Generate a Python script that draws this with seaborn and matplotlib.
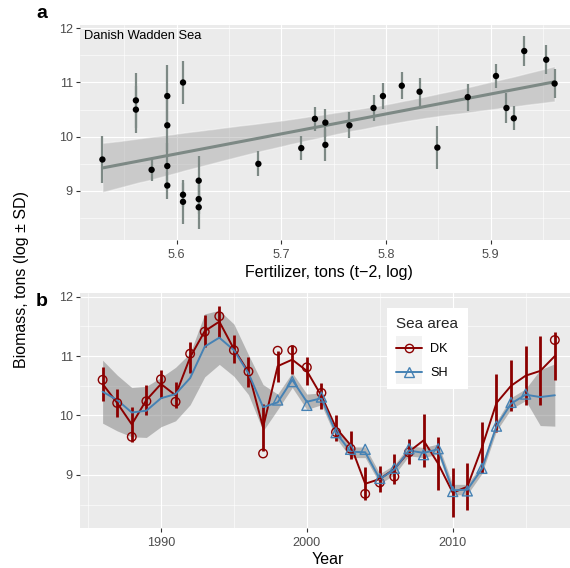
import numpy as np
import pandas as pd
import matplotlib
matplotlib.use("Agg")
import matplotlib.pyplot as plt
import seaborn as sns
from matplotlib.legend_handler import HandlerLine2D
from matplotlib.patches import Rectangle
from matplotlib.lines import Line2D
from matplotlib.ticker import MultipleLocator, FixedLocator

nan = np.nan

# ---------------- data ----------------
years = list(range(1986, 2018))

# DK state estimates (log biomass) and SD
dk_state = [10.53, 10.21, 9.85, 10.26, 10.53, 10.34, 10.98, 11.42, 11.58, 11.12,
            10.73, 9.80, 10.83, 10.94, 10.75, 10.33, 9.79, 9.50, 8.85, 8.93,
            9.10, 9.39, 9.58, 9.19, 8.70, 8.80, 9.46, 10.21, 10.50, 10.67,
            10.75, 11.00]
dk_sd = [0.28, 0.24, 0.30, 0.26, 0.24, 0.22, 0.26, 0.27, 0.27, 0.23,
         0.25, 0.40, 0.26, 0.25, 0.24, 0.22, 0.22, 0.23, 0.28, 0.22,
         0.25, 0.21, 0.44, 0.45, 0.41, 0.40, 0.43, 0.49, 0.43, 0.50,
         0.58, 0.40]
# fertilizer (t-2, log)
fert_t2 = [5.915, 5.765, 5.742, 5.742, 5.788, 5.922, 5.961, 5.953, 5.932, 5.905,
           5.878, 5.849, 5.832, 5.815, 5.797, 5.732, 5.719, 5.678, 5.621, 5.606,
           5.591, 5.576, 5.529, 5.621, 5.621, 5.606, 5.591, 5.591, 5.561, 5.561,
           5.591, 5.606]
# DK observations
dk_obs = [10.60, 10.21, 9.64, 10.24, 10.61, 10.23, 11.04, 11.41, 11.67, 11.10,
          10.74, 9.36, 11.09, 11.10, 10.81, 10.38, 9.72, 9.44, 8.68, 8.87,
          8.97, 9.38, nan, nan, nan, nan, nan, nan, nan, nan,
          nan, 11.27]
# SH observations
sh_obs = [nan, nan, nan, nan, nan, nan, nan, nan, nan, nan,
          nan, nan, 10.26, 10.57, 10.17, 10.31, 9.71, 9.43, 9.43, 8.94,
          9.11, 9.44, 9.34, 9.44, 8.72, 8.73, 9.11, 9.82, 10.22, 10.36,
          nan, nan]
# SH state estimates and band
sh_state = [10.40, 10.26, 10.05, 10.08, 10.29, 10.36, 10.63, 11.16, 11.31, 11.10,
            10.71, 10.14, 10.22, 10.60, 10.23, 10.29, 9.71, 9.39, 9.38, 8.93,
            9.09, 9.41, 9.37, 9.43, 8.74, 8.75, 9.10, 9.82, 10.20, 10.35,
            10.31, 10.34]
sh_hi = [10.93, 10.68, 10.47, 10.49, 10.64, 10.81, 11.05, 11.71, 11.77, 11.54,
         11.02, 10.52, 10.36, 10.72, 10.36, 10.38, 9.79, 9.47, 9.47, 9.02,
         9.17, 9.49, 9.46, 9.52, 8.84, 8.84, 9.18, 9.90, 10.30, 10.45,
         10.77, 10.87]
sh_lo = [9.87, 9.74, 9.64, 9.63, 9.81, 9.91, 10.18, 10.65, 10.86, 10.66,
         10.35, 9.74, 10.10, 10.47, 10.10, 10.18, 9.62, 9.29, 9.29, 8.85,
         9.00, 9.32, 9.29, 9.35, 8.66, 8.67, 9.02, 9.74, 10.11, 10.25,
         9.83, 9.82]

areas = ["DK", "SH"]
xticks_a = [5.6, 5.7, 5.8, 5.9]
xticks_b = [1990, 2000, 2010]
yticks = [9, 10, 11, 12]

DKC = "#8B0000"
SHC = "#4682B4"
LINE_A = "#7D8985"

# ---------------- style ----------------
sns.set_theme(style="darkgrid", rc={
    "axes.facecolor": "#EBEBEB",
    "grid.color": "white",
    "grid.linewidth": 0.85,
    "xtick.bottom": True,
    "ytick.left": True,
    "xtick.major.size": 2.9,
    "ytick.major.size": 2.9,
    "xtick.major.width": 0.8,
    "ytick.major.width": 0.8,
    "xtick.color": "#333333",
    "ytick.color": "#333333",
    "xtick.labelcolor": "#4D4D4D",
    "ytick.labelcolor": "#4D4D4D",
    "xtick.labelsize": 9.1,
    "ytick.labelsize": 9.1,
    "xtick.major.pad": 3.6,
    "ytick.major.pad": 2.2,
    "axes.edgecolor": "none",
})
plt.rcParams["font.family"] = ["Liberation Sans", "DejaVu Sans"]

W, H = 570, 568
fig = plt.figure(figsize=(W / 100, H / 100), dpi=100)
fig.patch.set_facecolor("white")

axa = fig.add_axes([80 / W, 1 - 240 / H, 490 / W, 215 / H])
axb = fig.add_axes([80 / W, 1 - 528.3 / H, 490 / W, 235 / H])

# ---------------- panel a ----------------
df_a = pd.DataFrame({"fert": fert_t2, "biomass": dk_state, "sd": dk_sd})
sns.regplot(data=df_a, x="fert", y="biomass", ax=axa, scatter=False, ci=95,
            n_boot=2000, seed=3, color=LINE_A, truncate=True,
            line_kws=dict(lw=2.2, zorder=2.5))
for coll in axa.collections:
    coll.set_facecolor("#999999")
    coll.set_alpha(0.4)
    coll.set_zorder(1.5)
axa.errorbar(df_a["fert"], df_a["biomass"], yerr=df_a["sd"], fmt="none",
             ecolor=LINE_A, elinewidth=1.6, capsize=0, zorder=3)
sns.scatterplot(data=df_a, x="fert", y="biomass", ax=axa, color="black",
                s=21, edgecolor="none", zorder=4)

axa.set_xlim(5.5076, 5.9757)
axa.set_ylim(8.096, 12.06)
axa.xaxis.set_major_locator(FixedLocator(xticks_a))
axa.set_xticklabels([f"{v:.1f}" for v in xticks_a])
axa.xaxis.set_minor_locator(MultipleLocator(0.05))
axa.yaxis.set_major_locator(FixedLocator(yticks))
axa.set_yticklabels([str(v) for v in yticks])
axa.yaxis.set_minor_locator(MultipleLocator(0.5))
axa.set_ylabel("")
axa.set_xlabel("Fertilizer, tons (t\u22122, log)", fontsize=11.5, color="black")
axa.xaxis.set_label_coords((328.5 - 80) / 490, (240 - 265.5) / 215)
axa.text(4 / 490, (240 - 30) / 215, "Danish Wadden Sea", transform=axa.transAxes,
         ha="left", va="top", fontsize=9.3, color="black")

# ---------------- panel b ----------------
df_state = pd.DataFrame({
    "Year": years * 2,
    "state": dk_state + sh_state,
    "area": ["DK"] * len(years) + ["SH"] * len(years),
})
axb.fill_between(years, sh_lo, sh_hi, color="#7F7F7F", alpha=0.5, lw=0, zorder=1)
axb.errorbar(years, dk_state, yerr=dk_sd, fmt="none", ecolor=DKC,
             elinewidth=2.0, capsize=0, zorder=3)
sns.lineplot(data=df_state, x="Year", y="state", hue="area", hue_order=areas,
             palette={"DK": DKC, "SH": SHC}, ax=axb, lw=1.4, legend=False,
             zorder=4)
sns.scatterplot(x=years, y=dk_obs, ax=axb, marker="o", s=38,
                facecolor="none", edgecolor=DKC, linewidth=1.0, zorder=5)
sns.scatterplot(x=years, y=sh_obs, ax=axb, marker="^", s=52,
                facecolor="none", edgecolor=SHC, linewidth=1.0, zorder=5)

axb.set_xlim(1984.45, 2018.04)
axb.set_ylim(8.10, 12.057)
axb.xaxis.set_major_locator(FixedLocator(xticks_b))
axb.set_xticklabels([str(v) for v in xticks_b])
axb.xaxis.set_minor_locator(MultipleLocator(5))
axb.yaxis.set_major_locator(FixedLocator(yticks))
axb.set_yticklabels([str(v) for v in yticks])
axb.yaxis.set_minor_locator(MultipleLocator(0.5))
axb.set_ylabel("")
axb.set_xlabel("Year", fontsize=11.5, color="black")
axb.xaxis.set_label_coords((328 - 80) / 490, (528.3 - 551.5) / 235)

for ax in (axa, axb):
    ax.grid(True, which="major", color="white", lw=0.85)
    ax.grid(True, which="minor", color="white", lw=0.4)
    ax.tick_params(which="minor", length=0)
    ax.set_axisbelow(True)
    for s in ax.spines.values():
        s.set_visible(False)


# legend with grey key background
class BgHandler(HandlerLine2D):
    def create_artists(self, legend, orig_handle, xdescent, ydescent,
                       width, height, fontsize, trans):
        arts = super().create_artists(legend, orig_handle, xdescent, ydescent,
                                      width, height, fontsize, trans)
        pad_y = 0.6 * fontsize
        bg = Rectangle((-xdescent, -ydescent - pad_y), width, height + 2 * pad_y,
                       facecolor="#F2F2F2", edgecolor="none", transform=trans)
        return [bg] + list(arts)


handles = [
    Line2D([], [], color=DKC, lw=1.4, marker="o", ms=6.0, mfc="none", mec=DKC, mew=1.0),
    Line2D([], [], color=SHC, lw=1.4, marker="^", ms=7.0, mfc="none", mec=SHC, mew=1.0),
]
leg = axb.legend(handles, areas, title="Sea area", loc="upper left",
                 bbox_to_anchor=((387 - 80) / 490, (528.3 - 308) / 235),
                 borderaxespad=0, frameon=True, fancybox=False,
                 facecolor="white", edgecolor="none", framealpha=1,
                 fontsize=9.1, title_fontsize=11, handlelength=2.0,
                 handletextpad=0.65, labelspacing=0.95, borderpad=0.75,
                 alignment="left",
                 handler_map={Line2D: BgHandler()})
for t in leg.get_texts():
    t.set_color("black")

# shared y label and panel tags
fig.text(22 / W, 1 - 280 / H, "Biomass, tons (log \u00b1 SD)", rotation=90,
         ha="center", va="center", fontsize=11.5, color="black")
fig.text(42 / W, 1 - 14 / H, "a", ha="center", va="center", fontsize=14,
         fontweight="bold", color="black")
fig.text(42 / W, 1 - 302 / H, "b", ha="center", va="center", fontsize=14,
         fontweight="bold", color="black")

fig.savefig("out.png", dpi=100)
